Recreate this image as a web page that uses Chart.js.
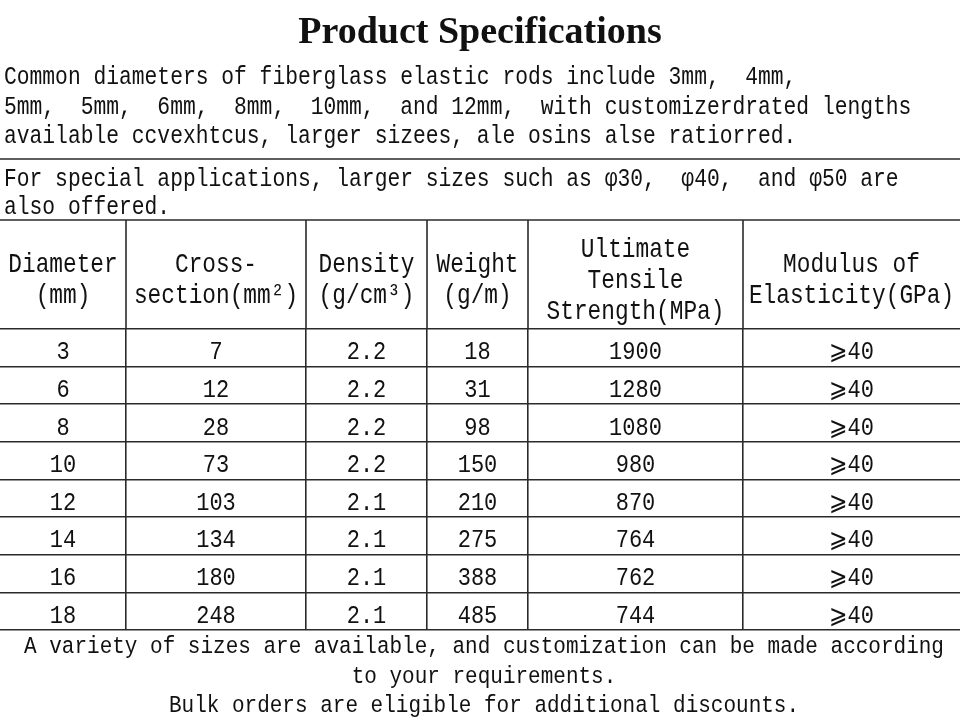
<!DOCTYPE html>
<html>
<head>
<meta charset="utf-8">
<title>Product Specifications</title>
<script src="https://cdn.jsdelivr.net/npm/chart.js@4.4.0/dist/chart.umd.min.js"></script>
<style>
    html, body { margin: 0; padding: 0; background: #fff; }
    #wrap { width: 960px; height: 725px; }
</style>
</head>
<body>
<div id="wrap"><canvas id="specTable" width="960" height="725"></canvas></div>
<script>
// Text blocks
const titleText = 'Product Specifications';
const introLines = [
    'Common diameters of fiberglass elastic rods include 3mm,  4mm,',
    '5mm,  5mm,  6mm,  8mm,  10mm,  and 12mm,  with customizerdrated lengths',
    'available ccvexhtcus, larger sizees, ale osins alse ratiorred.'
];
const noteLines = [
    'For special applications, larger sizes such as φ30,  φ40,  and φ50 are',
    'also offered.'
];
const footerLines = [
    'A variety of sizes are available, and customization can be made according',
    'to your requirements.',
    'Bulk orders are eligible for additional discounts.'
];

// Table header and columns
const headers = [
    ['Diameter', '(mm)'],
    ['Cross-', 'section(mm²)'],
    ['Density', '(g/cm³)'],
    ['Weight', '(g/m)'],
    ['Ultimate', 'Tensile', 'Strength(MPa)'],
    ['Modulus of', 'Elasticity(GPa)']
];
const diameters = ['3', '6', '8', '10', '12', '14', '16', '18'];
const crossSection = [7, 12, 28, 73, 103, 134, 180, 248];
const density = [2.2, 2.2, 2.2, 2.2, 2.1, 2.1, 2.1, 2.1];
const weight = [18, 31, 98, 150, 210, 275, 388, 485];
const tensile = [1900, 1280, 1080, 980, 870, 764, 762, 744];
const modulus = ['⩾40', '⩾40', '⩾40', '⩾40', '⩾40', '⩾40', '⩾40', '⩾40'];

// Layout (column edges in x-scale units, header band height in px)
const colEdges = [0, 126, 306, 427, 528, 743, 960];
const headerHeight = 109;
const monoFont = '"Liberation Mono", "DejaVu Sans Mono", "DejaVu Sans", monospace';
const lineColor = '#2a2a2a';
const textColor = '#111';
const tallText = 1.18; // the source font is taller than Liberation Mono

const columns = [
    diameters,
    crossSection,
    density.map(v => v.toFixed(1)),
    weight,
    tensile,
    modulus
];

function hLine(ctx, x1, x2, y) {
    ctx.beginPath();
    ctx.moveTo(x1, y);
    ctx.lineTo(x2, y);
    ctx.stroke();
}

// fillText stretched vertically around the baseline
function tallFill(ctx, text, x, y) {
    ctx.save();
    ctx.translate(x, y);
    ctx.scale(1, tallText);
    ctx.fillText(text, 0, 0);
    ctx.restore();
}

const tablePlugin = {
    id: 'specTable',
    beforeDraw(chart) {
        const ctx = chart.ctx;
        ctx.save();
        ctx.fillStyle = '#fff';
        ctx.fillRect(0, 0, chart.width, chart.height);
        ctx.restore();
    },
    afterDraw(chart) {
        const ctx = chart.ctx;
        const xs = chart.scales.x;
        const ys = chart.scales.y;
        const area = chart.chartArea;
        const w = chart.width;
        const headerTop = area.top - headerHeight;

        ctx.save();
        ctx.fillStyle = textColor;

        // Title
        ctx.textAlign = 'center';
        ctx.textBaseline = 'alphabetic';
        ctx.font = 'bold 38px "Liberation Serif", serif';
        ctx.fillText(titleText, w / 2, 43, 372);

        // Intro paragraphs
        ctx.textAlign = 'left';
        ctx.font = '21.3px ' + monoFont;
        introLines.forEach((t, i) => tallFill(ctx, t, 4, 84 + i * 29.5));
        noteLines.forEach((t, i) => tallFill(ctx, t, 4, 186 + i * 27.5));

        // Rules above the table
        ctx.strokeStyle = lineColor;
        ctx.lineWidth = 1.6;
        hLine(ctx, 0, w, 159);
        hLine(ctx, 0, w, headerTop);

        // Column lines through the header band
        colEdges.slice(1, -1).forEach(v => {
            const px = Math.round(xs.getPixelForValue(v));
            ctx.beginPath();
            ctx.moveTo(px, headerTop);
            ctx.lineTo(px, area.top);
            ctx.stroke();
        });

        // Header text
        ctx.textAlign = 'center';
        ctx.font = '22.8px ' + monoFont;
        const headMid = headerTop + headerHeight / 2 + 13;
        headers.forEach((lines, j) => {
            const cx = xs.getPixelForValue((colEdges[j] + colEdges[j + 1]) / 2);
            lines.forEach((t, k) => {
                tallFill(ctx, t, cx, headMid + (k - (lines.length - 1) / 2) * 31);
            });
        });

        // Data cells
        ctx.font = '22px ' + monoFont;
        diameters.forEach((d, i) => {
            const cy = ys.getPixelForValue(i) + 11.5;
            columns.forEach((col, j) => {
                const cx = xs.getPixelForValue((colEdges[j] + colEdges[j + 1]) / 2);
                tallFill(ctx, String(col[i]), cx, cy);
            });
        });

        // Footer notes
        ctx.font = '21px ' + monoFont;
        footerLines.forEach((t, i) => tallFill(ctx, t, w / 2 + 4, area.bottom + 23 + i * 29.5));

        ctx.restore();
    }
};

new Chart(document.getElementById('specTable'), {
    type: 'bar',
    data: {
        labels: diameters,
        datasets: []
    },
    options: {
        indexAxis: 'y',
        responsive: false,
        animation: false,
        events: [],
        layout: {
            padding: { top: 329, bottom: 95, left: 0, right: 0 }
        },
        plugins: {
            legend: { display: false },
            tooltip: { enabled: false },
            title: { display: false }
        },
        scales: {
            x: {
                type: 'linear',
                min: colEdges[0],
                max: colEdges[colEdges.length - 1],
                afterBuildTicks: scale => {
                    scale.ticks = colEdges.slice(1, -1).map(v => ({ value: v }));
                },
                ticks: { display: false },
                border: { display: false },
                grid: { color: lineColor, lineWidth: 1.6, drawTicks: false }
            },
            y: {
                type: 'category',
                offset: true,
                ticks: { display: false },
                border: { display: false },
                grid: { offset: true, color: lineColor, lineWidth: 1.6, drawTicks: false }
            }
        }
    },
    plugins: [tablePlugin]
});
</script>
</body>
</html>
